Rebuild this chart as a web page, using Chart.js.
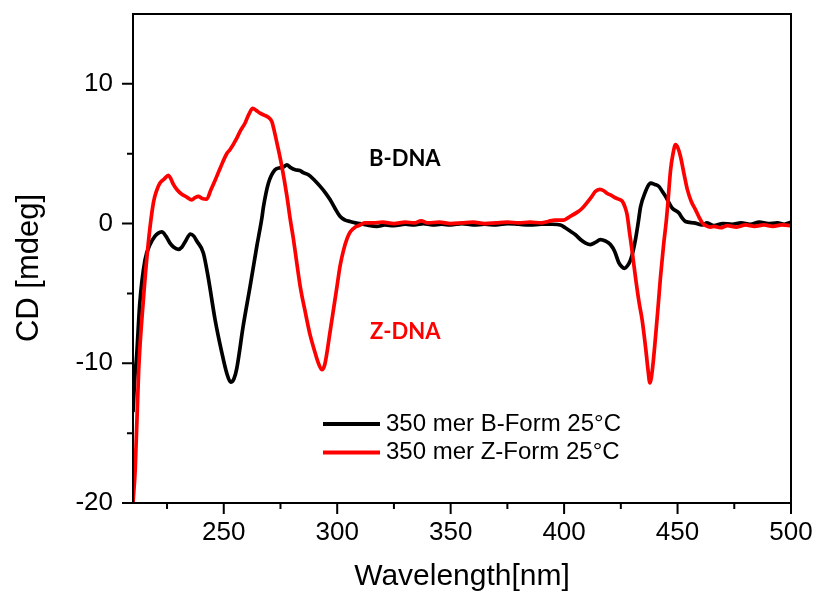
<!DOCTYPE html>
<html>
<head>
<meta charset="utf-8">
<script src="https://cdn.jsdelivr.net/npm/chart.js@4"></script>
<style>
  html, body { margin: 0; padding: 0; background: #fff; }
  #wrap { width: 817px; height: 599px; position: relative; }
</style>
</head>
<body>
<div id="wrap"><canvas id="cdChart"></canvas></div>
<script>
// B-form spectrum (wavelength nm / CD mdeg)
const bWave = [210, 210.8, 211.6, 213, 215.3, 217.5, 219.7, 221, 222.7, 224.5, 226.3, 228, 230, 231.5, 233, 235.3, 236.8, 238.1, 241, 243.2, 246.2, 249.1, 251.3, 253, 254.5, 255.7, 258.6, 261.6, 264.6, 266.8, 267.5, 269.7, 272.6, 275, 276.3, 277.8, 279.5, 281.5, 283.5, 285, 287.3, 290, 292.5, 294.8, 296.9, 299, 301.3, 303.5, 305.7, 308, 310, 313, 317.5, 321, 325, 330, 334, 338, 342, 346, 350, 355, 360, 365, 370, 375, 380, 385, 390, 395, 398.4, 400.5, 402.8, 405, 407.2, 409.5, 411.6, 413.8, 416, 418.2, 420.4, 422.3, 424.1, 425.5, 426.6, 428, 429.3, 430.5, 431.5, 432.6, 433.7, 435.9, 437, 438.1, 440, 441.8, 443.3, 444.7, 446.2, 447.7, 450.6, 452, 453.5, 457.2, 460.9, 463, 466, 470, 474, 478, 482, 486, 490, 494, 497, 500];
const bCd = [-13.5, -11, -9.5, -5.7, -2.6, -1.5, -0.9, -0.7, -0.6, -0.9, -1.4, -1.7, -1.85, -1.7, -1.3, -0.75, -0.9, -1.25, -2.1, -3.9, -6.9, -9.2, -10.7, -11.35, -11.1, -10.4, -7.3, -4.5, -1.6, 0.4, 1.2, 2.9, 3.85, 4.0, 4.05, 4.2, 4.0, 3.85, 3.8, 3.65, 3.5, 3.1, 2.66, 2.2, 1.7, 1.1, 0.5, 0.25, 0.15, 0.05, 0.0, -0.1, -0.2, -0.1, -0.15, -0.05, -0.1, 0.0, -0.1, -0.05, -0.1, 0.0, -0.1, -0.05, -0.1, 0.0, -0.05, -0.1, -0.05, -0.05, -0.1, -0.3, -0.55, -0.8, -1.14, -1.4, -1.5, -1.35, -1.15, -1.25, -1.5, -2.0, -2.8, -3.1, -3.2, -3.0, -2.6, -1.9, -1.1, 0.0, 1.2, 2.3, 2.7, 2.9, 2.8, 2.65, 2.3, 1.95, 1.5, 1.1, 0.75, 0.4, 0.15, 0.05, -0.1, 0.05, -0.15, 0.0, -0.05, 0.05, -0.05, 0.1, 0.0, 0.05, -0.05, 0.1];

// Z-form spectrum
const zWave = [210, 211, 212.5, 214.5, 216.8, 219, 220.5, 221.9, 223.8, 225.6, 226.7, 227.8, 229.5, 231.5, 233.7, 235.9, 237.3, 238.8, 240.5, 242.5, 244.3, 246.2, 248.5, 251.3, 252.8, 255.7, 257.2, 259.4, 261, 262.8, 264.3, 266, 268, 269.7, 271.2, 272.3, 273.4, 275.6, 277.8, 279.3, 280.7, 282, 283.7, 286, 288.1, 290, 291.5, 293.2, 294.5, 296.9, 298.5, 299.9, 301.3, 302.8, 304.3, 305.7, 308, 310.1, 312, 316, 320, 325, 330, 334, 337, 340, 345, 350, 355, 360, 365, 370, 375, 380, 385, 390, 393, 396, 399.7, 402, 405.7, 408, 410.1, 412, 413.8, 415.7, 417.5, 419, 420.4, 422.5, 424, 425.6, 426.8, 427.8, 428.8, 430, 431.5, 433, 434.4, 436, 437, 437.8, 438.8, 440.3, 441.5, 442.5, 443.8, 445.1, 445.6, 446.9, 448, 449.1, 450.2, 451.3, 452.8, 454.3, 456, 457.9, 459.5, 460.9, 462.5, 464.5, 466, 468.9, 472, 476, 480, 484, 488, 492, 496, 500];
const zCd = [-20, -17.5, -10.5, -5.6, -1.3, 1.5, 2.4, 2.9, 3.2, 3.45, 3.2, 2.8, 2.4, 2.1, 1.9, 1.7, 1.85, 1.95, 1.8, 1.75, 2.4, 3.1, 4.0, 5.0, 5.3, 6.1, 6.6, 7.2, 7.8, 8.25, 8.1, 7.9, 7.75, 7.6, 7.3, 6.6, 5.8, 4.1, 2.0, 0.3, -1.1, -2.6, -4.5, -6.4, -8.0, -9.1, -9.9, -10.45, -10.1, -7.7, -6.0, -4.5, -3.0, -1.9, -1.1, -0.6, -0.25, -0.1, 0.05, 0.05, 0.1, 0.0, 0.1, 0.05, 0.2, 0.05, 0.1, 0.0, 0.05, 0.1, 0.0, 0.05, 0.1, 0.05, 0.1, 0.05, 0.15, 0.25, 0.25, 0.45, 0.8, 1.1, 1.5, 1.9, 2.3, 2.45, 2.35, 2.15, 2.05, 1.85, 1.75, 1.6, 1.2, 0.6, -0.6, -2.0, -3.9, -5.6, -6.9, -9.0, -10.5, -11.4, -10.6, -8.1, -5.8, -3.8, -1.6, 0.3, 1.2, 3.8, 5.0, 5.65, 5.4, 4.8, 3.6, 2.45, 1.6, 1.0, 0.45, 0.05, -0.15, -0.25, -0.2, -0.3, -0.15, -0.25, -0.1, -0.2, -0.1, -0.2, -0.1, -0.15];

const seriesNames = ['350 mer B-Form 25°C', '350 mer Z-Form 25°C'];
const xTicks = [250, 300, 350, 400, 450, 500];
const xMinor = [225, 275, 325, 375, 425, 475];
const yTicks = [-20, -10, 0, 10];
const yMinor = [-15, -5, 5];

const FONT = "'Liberation Sans', Arial, sans-serif";

const toXY = (xs, ys) => xs.map((x, i) => ({ x: x, y: ys[i] }));

// frame, tick marks, y title, legend and the two labels
const decorPlugin = {
    id: 'decor',
    afterDatasetsDraw(chart) {
        const ctx = chart.ctx;
        const a = chart.chartArea;
        const sx = chart.scales.x, sy = chart.scales.y;
        ctx.save();
        ctx.strokeStyle = '#000';
        ctx.lineWidth = 2;
        ctx.strokeRect(a.left, a.top, a.right - a.left, a.bottom - a.top);

        ctx.beginPath();
        xTicks.forEach(v => { const p = sx.getPixelForValue(v); ctx.moveTo(p, a.bottom); ctx.lineTo(p, a.bottom + 11); });
        xMinor.forEach(v => { const p = sx.getPixelForValue(v); ctx.moveTo(p, a.bottom); ctx.lineTo(p, a.bottom + 6); });
        yTicks.forEach(v => { const p = sy.getPixelForValue(v); ctx.moveTo(a.left, p); ctx.lineTo(a.left - 11, p); });
        yMinor.forEach(v => { const p = sy.getPixelForValue(v); ctx.moveTo(a.left, p); ctx.lineTo(a.left - 6, p); });
        ctx.stroke();

        // y axis title
        ctx.save();
        ctx.translate(29, 268);
        ctx.rotate(-Math.PI / 2);
        ctx.font = '31px ' + FONT;
        ctx.fillStyle = '#000';
        ctx.textAlign = 'center';
        ctx.textBaseline = 'middle';
        ctx.fillText('CD [mdeg]', 0, 0);
        ctx.restore();

        // legend
        const lx = 323, ly = 424, gap = 28.5;
        const ds = [chart.data.datasets[1], chart.data.datasets[0]];
        ds.forEach((d, i) => {
            const y = ly + i * gap;
            ctx.strokeStyle = d.borderColor;
            ctx.lineWidth = 4;
            ctx.beginPath();
            ctx.moveTo(lx, y);
            ctx.lineTo(lx + 57, y);
            ctx.stroke();
            ctx.fillStyle = '#000';
            ctx.font = '24px ' + FONT;
            ctx.textBaseline = 'middle';
            ctx.fillText(d.label, lx + 63, y);
        });

        ctx.font = "bold 22px Lato, 'Noto Sans', sans-serif";
        ctx.textBaseline = 'middle';
        ctx.fillStyle = '#000';
        ctx.fillText('B-DNA', 369, 159);
        ctx.fillStyle = '#ff0000';
        ctx.fillText('Z-DNA', 370, 332);
        ctx.restore();
    }
};

new Chart(document.getElementById('cdChart').getContext('2d'), {
    type: 'line',
    data: {
        datasets: [
            {
                label: seriesNames[1],
                data: toXY(zWave, zCd),
                borderColor: '#ff0000',
                order: 0
            },
            {
                label: seriesNames[0],
                data: toXY(bWave, bCd),
                borderColor: '#000000',
                order: 1
            }
        ]
    },
    options: {
        responsive: true,
        maintainAspectRatio: false,
        animation: false,
        devicePixelRatio: 1,
        layout: { padding: { top: 14, right: 26, left: 0, bottom: 0 } },
        elements: {
            point: { radius: 0 },
            line: { borderWidth: 3.7, cubicInterpolationMode: 'monotone', fill: false }
        },
        plugins: { legend: { display: false }, tooltip: { enabled: false } },
        scales: {
            x: {
                type: 'linear',
                min: 210,
                max: 500,
                afterBuildTicks: s => { s.ticks = xTicks.map(v => ({ value: v })); },
                afterFit: s => { s.height = 96; s.paddingLeft = 0; s.paddingRight = 0; },
                grid: { display: false, drawTicks: false },
                border: { display: false },
                ticks: { color: '#000', padding: 14, maxRotation: 0, autoSkip: false, font: { family: FONT, size: 26 } },
                title: { display: true, text: 'Wavelength[nm]', color: '#000', padding: { bottom: 4 }, font: { family: FONT, size: 30 } }
            },
            y: {
                type: 'linear',
                min: -20,
                max: 15,
                afterBuildTicks: s => { s.ticks = yTicks.map(v => ({ value: v })); },
                afterFit: s => { s.width = 133; s.paddingTop = 0; s.paddingBottom = 0; },
                grid: { display: false, drawTicks: false },
                border: { display: false },
                ticks: { color: '#000', padding: 20, font: { family: FONT, size: 26 } },
                title: { display: false }
            }
        }
    },
    plugins: [decorPlugin]
});
</script>
</body>
</html>
